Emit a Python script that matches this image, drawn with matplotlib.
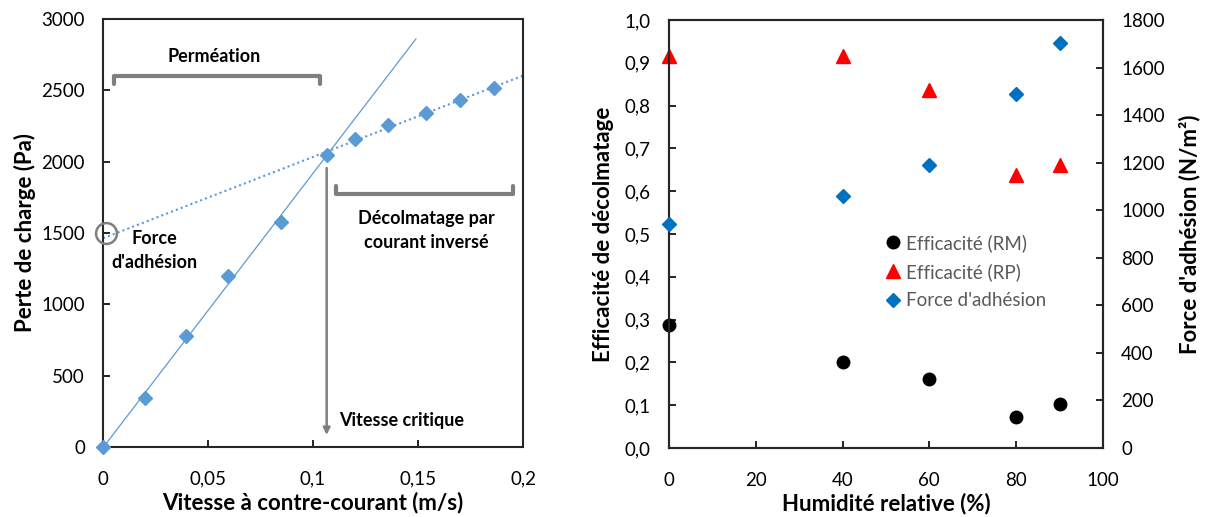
import matplotlib.pyplot as plt
import numpy as np

plt.rcParams['font.family'] = ['Lato', 'DejaVu Sans']

# Left panel: pressure drop vs counter-current velocity
vitesse = [0.0, 0.020, 0.0396, 0.0597, 0.0848, 0.1065, 0.1198, 0.1358, 0.1538, 0.1699, 0.1864]
perte = [0, 340, 775, 1200, 1580, 2048, 2156, 2256, 2342, 2431, 2515]
x_ticks_left = [0, 0.05, 0.1, 0.15, 0.2]
x_labels_left = ["0", "0,05", "0,1", "0,15", "0,2"]
y_ticks_left = [0, 500, 1000, 1500, 2000, 2500, 3000]

# Right panel: efficiency and adhesion force vs relative humidity
humidite = [0, 40, 60, 80, 90]
eff_rm = [0.288, 0.202, 0.161, 0.072, 0.103]
eff_rp = [0.915, 0.915, 0.837, 0.637, 0.660]
force_adh = [944, 1059, 1190, 1490, 1703]

fig = plt.figure(figsize=(12.09, 5.17), dpi=100)
ax1 = fig.add_axes([0.0852, 0.1354, 0.3474, 0.8279])
ax2 = fig.add_axes([0.5533, 0.1335, 0.3590, 0.8279])
ax3 = ax2.twinx()

blue_l = '#5B9BD5'
gray = '#7F7F7F'

# trend lines
v = np.array(vitesse)
p = np.array(perte)
k1 = np.polyfit(v[:6], p[:6], 1)
xs1 = np.linspace(0, 0.149, 50)
ax1.plot(xs1, np.polyval(k1, xs1), color=blue_l, lw=0.9, zorder=2)
k2 = np.polyfit(v[5:], p[5:], 1)
xs2 = np.linspace(0, 0.2, 50)
ax1.plot(xs2, np.polyval(k2, xs2), color=blue_l, lw=1.5, ls=(0, (1, 1.5)), zorder=2)
ax1.plot(vitesse, perte, 'D', color=blue_l, markersize=7, zorder=3, clip_on=False)

ax1.set_xlim(0, 0.2)
ax1.set_ylim(0, 3000)
ax1.set_xticks(x_ticks_left)
ax1.set_xticklabels(x_labels_left)
ax1.set_yticks(y_ticks_left)
ax1.set_xlabel("Vitesse à contre-courant (m/s)", fontsize=16, fontweight='bold', labelpad=3)
ax1.set_ylabel("Perte de charge (Pa)", fontsize=16, fontweight='bold', labelpad=4)

# annotations
ax1.plot([0.005, 0.005, 0.1035, 0.1035], [2545, 2600, 2600, 2545], color=gray, lw=3,
         solid_joinstyle='round', solid_capstyle='round', clip_on=False)
ax1.text(0.053, 2740, "Perméation", ha='center', va='center', fontsize=13, fontweight='bold')
ax1.plot([0.111, 0.111, 0.195, 0.195], [1832, 1776, 1776, 1832], color=gray, lw=3,
         solid_joinstyle='round', solid_capstyle='round', clip_on=False)
ax1.text(0.154, 1520, "Décolmatage par\ncourant inversé", ha='center', va='center',
         fontsize=13, fontweight='bold', linespacing=1.5)
ax1.text(0.0245, 1380, "Force\nd'adhésion", ha='center', va='center',
         fontsize=13, fontweight='bold', linespacing=1.5)
ax1.plot([0.0015], [1503], 'o', markersize=15, markerfacecolor='none',
         markeredgecolor=gray, markeredgewidth=1.8, clip_on=False, zorder=4)
ax1.annotate("", xy=(0.1065, 65), xytext=(0.1065, 1975),
             arrowprops=dict(arrowstyle='-|>', color=gray, lw=1.8, mutation_scale=10))
ax1.text(0.1125, 185, "Vitesse critique", ha='left', va='center', fontsize=13, fontweight='bold')

# right panel
ax2.plot(humidite, eff_rm, 'o', color='black', markersize=9, clip_on=False, zorder=3,
         label="Efficacité (RM)")
ax2.plot(humidite, eff_rp, '^', color='red', markersize=10, clip_on=False, zorder=3,
         label="Efficacité (RP)")
ax3.plot(humidite, force_adh, 'D', color='#0070C0', markersize=7.5, clip_on=False, zorder=3,
         label="Force d'adhésion")

ax2.set_xlim(0, 100)
ax2.set_ylim(0, 1.0)
ax3.set_ylim(0, 1800)
ax2.set_xticks(np.arange(0, 101, 20))
ax2.set_yticks(np.arange(0, 1.01, 0.1))
ax2.set_yticklabels([f"{t:.1f}".replace('.', ',') for t in np.arange(0, 1.01, 0.1)])
ax3.set_yticks(np.arange(0, 1801, 200))
ax2.set_xlabel("Humidité relative (%)", fontsize=16, fontweight='bold', labelpad=3)
ax2.set_ylabel("Efficacité de décolmatage", fontsize=16, fontweight='bold', labelpad=8)
ax3.set_ylabel("Force d'adhésion (N/m²)", fontsize=16, fontweight='bold', labelpad=10)

h1, l1 = ax2.get_legend_handles_labels()
h2, l2 = ax3.get_legend_handles_labels()
leg = ax2.legend(h1 + h2, l1 + l2, loc='upper left', bbox_to_anchor=(0.473, 0.518),
                 frameon=False, fontsize=13.5, handletextpad=0.1, handlelength=1.2,
                 labelspacing=0.6, borderaxespad=0)
for t in leg.get_texts():
    t.set_color('#595959')

for ax in (ax1, ax2, ax3):
    ax.tick_params(direction='in', labelsize=13.5, length=5, width=1.2, pad=13)
    ax.tick_params(axis='x', pad=17)
    for s in ax.spines.values():
        s.set_linewidth(1.5)
        s.set_color('#262626')

fig.savefig("out.png", dpi=100)
